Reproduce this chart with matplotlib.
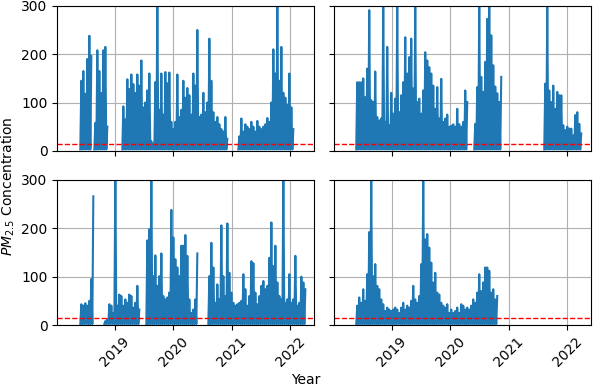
import matplotlib
matplotlib.use("Agg")
import matplotlib.pyplot as plt
import matplotlib.dates as mdates
import numpy as np

nan = np.nan

# PM2.5 peaks, one value per 12.5-day step (nan = no data)
tl_start = "2018-05-29"
tl_peaks = [145, 165, 118, 190, 238, 196, nan, 58, 208, 165, 120, 208, 215, 50,
            nan, nan, nan, nan, nan, nan, nan,
            92, 65, 148, 128, 158, 138, 120, 158, 135, 187, 90, 100, 125, 160, 20, 15,
            142, 305, 85, 160, 75, 163, 140, 162, 60, 45, 60, 158, 70, 85, 145, 110,
            130, 115, 75, 160, 135, 250, 70, 75, 120, 80, 100, 232, 145, 80, 60, 70,
            55, 45, 40, 70, 25,
            nan, nan, nan, nan, nan,
            30, 67, 40, 55, 50, 45, 60, 50, 40, 62, 50, 45, 50, 55, 68, 60, 100, 210,
            160, 305, 145, 215, 120, 110, 95, 160, 90, 45]

tr_start = "2018-05-23"
tr_peaks = [142, 142, 142, 150, 111, 170, 291, 105, 101, 164, 70, 63, 67, 300, 60,
            215, 53, 120, 77, 108, 300, 80, 115, 142, 235, 160, 194, 232, 129, 300,
            101, 108, 77, 125, 204, 187, 173, 160, 135, 87, 132, 67, 149, 60, 67,
            75, 50, 52, 55, 50, 87, 55, 50, 60, 125, 101,
            nan, nan, nan,
            56, 132, 300, 153, 122, 184, 273, 300, 239, 177, 133, 119, 101, 153,
            nan, nan, nan, nan, nan, nan, nan, nan, nan, nan, nan, nan, nan, nan,
            nan, nan, nan, nan, nan, nan, nan,
            139, 300, 125, 101, 135, 87, 122, 115, 115, 53, 43, 50, 46, 46, 32, 74,
            80, 56, 36]

bl_start = "2018-05-29"
bl_peaks = [43, 40, 45, 40, 50, 95, 266,
            nan, nan, nan, nan, nan,
            8, 12, 43, 40, 25, 305, 40, 63, 60, 40, 53, 46, 63, 60, 36, 46, 81, 32,
            nan, nan, nan,
            175, 198, 305, 101, 144, 81, 101, 148, 60, 53, 57, 67, 238, 181, 136,
            119, 101, 164, 164, 186, 143, 53, 25, 32, 53, 148,
            nan, nan, nan, nan, nan,
            101, 170, 119, 46, 84, 53, 206, 101, 60, 210, 108, 67, 46, 40, 43, 46,
            50, 105, 74, 40, 60, 132, 128, 67, 43, 60, 81, 91, 74, 81, 139, 212,
            122, 164, 88, 60, 53, 305, 46, 53, 105, 46, 53, 143, 40, 46, 100, 88, 74]

br_start = "2018-05-23"
br_peaks = [40, 57, 46, 74, 50, 105, 192, 300, 101, 126, 81, 74, 53, 43, 29, 36,
            32, 29, 32, 36, 32, 25, 36, 46, 32, 40, 36, 50, 81, 53, 46, 60, 126,
            300, 177, 188, 160, 129, 88, 108, 67, 63, 46, 40, 36, 43, 25, 32, 25,
            29, 36, 25, 43, 40, 32, 36, 32, 40, 53, 46, 67, 105, 70, 88, 119, 119,
            112, 67, 74, 53, 60]

starts = [tl_start, tr_start, bl_start, br_start]
peaks = [tl_peaks, tr_peaks, bl_peaks, br_peaks]
floors = [3, 3, 2, 2]
guideline = 15

step = np.timedelta64(300, "h")
half = np.timedelta64(150, "h")

fig, axes = plt.subplots(2, 2, sharex=True, sharey=True, figsize=(5.93, 3.86), dpi=100)
fig.subplots_adjust(left=0.0966, right=0.9966, top=0.985, bottom=0.158,
                    wspace=0.078, hspace=0.2)

for ax, start, pk, low in zip(axes.flat, starts, peaks, floors):
    pk = np.array(pk, dtype=float)
    t = np.datetime64(start + "T00") + np.arange(len(pk)) * step
    lows = np.where(np.isnan(pk), nan, low)
    xs = np.column_stack([t, t + half]).ravel()
    ys = np.column_stack([lows, pk]).ravel()
    ax.plot(xs, ys, color="tab:blue", lw=1.5)
    ax.axhline(guideline, color="red", linestyle="--", lw=1)
    ax.grid(True)

ax = axes[0, 0]
ax.set_ylim(0, 300)
ax.set_yticks([0, 100, 200, 300])
ax.set_xlim(np.datetime64("2018-01-05"), np.datetime64("2022-05-29"))
ax.xaxis.set_major_locator(mdates.YearLocator())
ax.xaxis.set_major_formatter(mdates.DateFormatter("%Y"))
for a in axes[1]:
    plt.setp(a.get_xticklabels(), rotation=45)

fig.text(0.0145, 0.517, "$PM_{2.5}$ Concentration", rotation=90, ha="center", va="center")
fig.text(0.516, 0.0155, "Year", ha="center", va="center")

fig.savefig("out.png", dpi=100)
